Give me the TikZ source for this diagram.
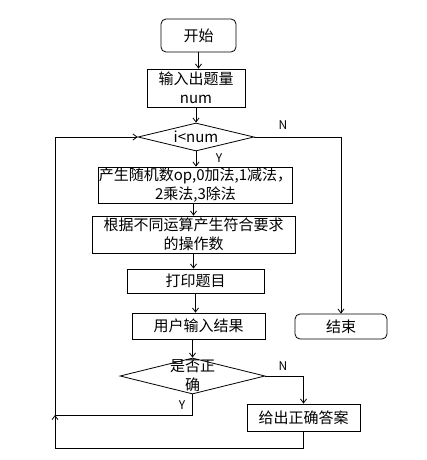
\documentclass[tikz,border=0pt]{standalone}
\usepackage{fontspec}
\setmainfont{Noto Sans CJK SC}
\usetikzlibrary{arrows.meta,shapes.geometric}
\begin{document}
\begin{tikzpicture}[x=1pt,y=-1pt,
  font=\fontsize{15}{19}\selectfont,
  box/.style={draw=black,line width=0.8pt,inner sep=0pt,align=center},
  rbox/.style={box,rounded corners=5pt},
  dia/.style={draw=black,line width=0.8pt,diamond,inner sep=0pt},
  txt/.style={inner sep=0pt,align=center},
  lab/.style={inner sep=0pt,font=\fontsize{12}{14}\selectfont},
  arr/.style={line width=0.8pt,-{Straight Barb[length=4pt,width=6pt]}},
  ln/.style={line width=0.8pt}]
\useasboundingbox (0,0) rectangle (427,460);
\node[rbox,minimum width=75pt,minimum height=33pt] (start) at (198.5,35.5) {开始};
\node[box,minimum width=98pt,minimum height=38pt] (inp) at (196,88) {输入出题量\\num};
\node[dia,minimum width=116pt,minimum height=28pt] (loop) at (196,137) {};
\node[txt] at (loop) {i<num};
\node[box,minimum width=193pt,minimum height=36pt] (gen) at (195.5,185) {产生随机数op,0加法,1减法，\\2乘法,3除法};
\node[box,minimum width=203pt,minimum height=37pt] (ops) at (193.5,234.5) {根据不同运算产生符合要求\\的操作数};
\node[box,minimum width=137pt,minimum height=24pt] (prt) at (195.5,281) {打印题目};
\node[box,minimum width=133pt,minimum height=26pt] (usr) at (198.5,326) {用户输入结果};
\node[dia,minimum width=145pt,minimum height=36pt] (chk) at (192.5,376) {};
\node[txt] at (chk) {是否正\\确};
\node[box,minimum width=113pt,minimum height=27pt] (ans) at (303.5,417.5) {给出正确答案};
\node[rbox,minimum width=92pt,minimum height=25pt] (fin) at (341,326.5) {结束};
\coordinate (bl) at (55,448);
\coordinate (mj) at (55,415);
\node[lab] (n1) at (283,125) {N};
\node[lab] (y1) at (219,158) {Y};
\node[lab] (n2) at (283,366) {N};
\node[lab] (y2) at (182,405) {Y};
\draw[arr] (start.south) -- (start.south |- inp.north);
\draw[arr] (inp.south) -- (inp.south |- loop.north);
\draw[arr] (loop.south) -- (loop.south |- gen.north);
\draw[arr] (ops.north |- gen.south) -- (ops.north);
\draw[arr] (ops.south) -- (ops.south |- prt.north);
\draw[arr] (prt.south) -- (prt.south |- usr.north);
\draw[arr] (usr.south -| chk.north) -- (chk.north);
\draw[arr] (loop.east) -| (fin.north);
\draw[arr] (chk.east) -| (ans.north);
\draw[ln] (chk.south) |- (mj);
\draw[arr] (ans.south) |- (bl) -- (mj);
\draw[arr] (mj) |- (loop.west);
\end{tikzpicture}
\end{document}
